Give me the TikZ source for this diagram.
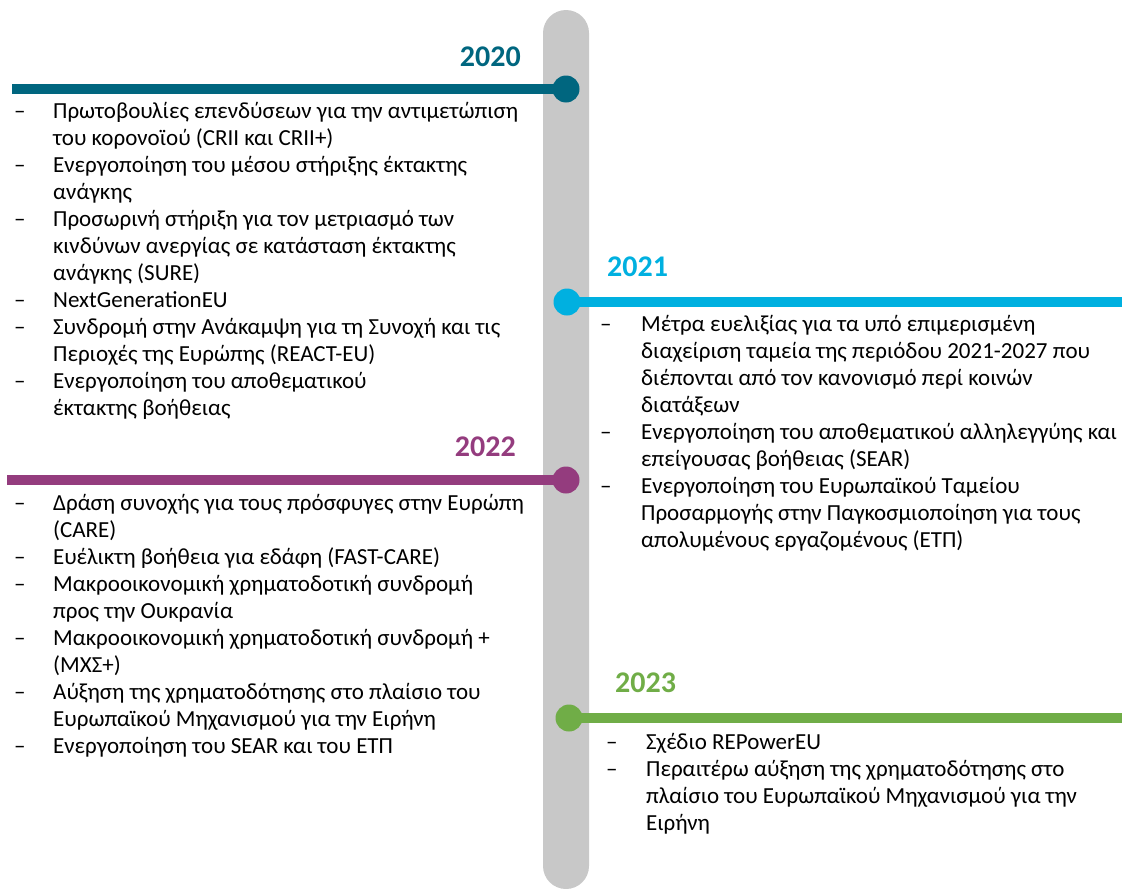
\documentclass[tikz,border=0pt]{standalone}
\usepackage{fontspec}
\setmainfont{Carlito}
\usetikzlibrary{positioning}

\definecolor{barGrey}{HTML}{C8C8C8}
\definecolor{yrTeal}{HTML}{00667F}
\definecolor{yrCyan}{HTML}{00B0E0}
\definecolor{yrPlum}{HTML}{943C7E}
\definecolor{yrGreen}{HTML}{70AD47}

\tikzset{
  bar/.style={fill=barGrey, rounded corners=23pt},
  dot/.style={circle, fill=#1, minimum size=27pt, inner sep=0pt},
  link/.style={line width=10pt, draw=#1},
  year/.style={font=\fontsize{30}{30}\selectfont\bfseries, text=#1, inner sep=0pt},
  items/.style={font=\fontsize{23}{27}\selectfont, inner sep=0pt, anchor=base west}
}

\begin{document}
\begin{tikzpicture}[x=1pt,y=-1pt]
    \useasboundingbox (0,0) rectangle (1122,889);

    % grey time axis
    \fill[bar] (543,10) rectangle (589,889);

    % year markers
    \node[dot=yrTeal]  (d2020) at (566,89)  {};
    \node[dot=yrCyan]  (d2021) at (567,302) {};
    \node[dot=yrPlum]  (d2022) at (566,480) {};
    \node[dot=yrGreen] (d2023) at (569,718) {};

    \coordinate (e2020) at (12,89);
    \coordinate (e2021) at (1122,302);
    \coordinate (e2022) at (7,480);
    \coordinate (e2023) at (1122,718);

    \draw[link=yrTeal]  (e2020) -- (d2020.center);
    \draw[link=yrCyan]  (d2021.center) -- (e2021);
    \draw[link=yrPlum]  (e2022) -- (d2022.center);
    \draw[link=yrGreen] (d2023.center) -- (e2023);

    % year labels
    \node[year=yrTeal, anchor=base east]  (y2020) at (521,66)  {2020};
    \node[year=yrCyan, anchor=base west]  (y2021) at (607,276) {2021};
    \node[year=yrPlum, anchor=base east]  (y2022) at (516,456) {2022};
    \node[year=yrGreen, anchor=base west] (y2023) at (615,692) {2023};

    % lists
    \node[items] (l2020) at (14,118) {%
      \begin{tabular}[t]{@{}p{39pt}@{}l@{}}
        \textendash & Πρωτοβουλίες επενδύσεων για την αντιμετώπιση\\
                    & του κορονοϊού (CRII και CRII+)\\
        \textendash & Ενεργοποίηση του μέσου στήριξης έκτακτης\\
                    & ανάγκης\\
        \textendash & Προσωρινή στήριξη για τον μετριασμό των\\
                    & κινδύνων ανεργίας σε κατάσταση έκτακτης\\
                    & ανάγκης (SURE)\\
        \textendash & NextGenerationEU\\
        \textendash & Συνδρομή στην Ανάκαμψη για τη Συνοχή και τις\\
                    & Περιοχές της Ευρώπης (REACT-EU)\\
        \textendash & Ενεργοποίηση του αποθεματικού\\
                    & έκτακτης βοήθειας
      \end{tabular}};

    \node[items] (l2021) at (600,331) {%
      \begin{tabular}[t]{@{}p{41pt}@{}l@{}}
        \textendash & Μέτρα ευελιξίας για τα υπό επιμερισμένη\\
                    & διαχείριση ταμεία της περιόδου 2021-2027 που\\
                    & διέπονται από τον κανονισμό περί κοινών\\
                    & διατάξεων\\
        \textendash & Ενεργοποίηση του αποθεματικού αλληλεγγύης και\\
                    & επείγουσας βοήθειας (SEAR)\\
        \textendash & Ενεργοποίηση του Ευρωπαϊκού Ταμείου\\
                    & Προσαρμογής στην Παγκοσμιοποίηση για τους\\
                    & απολυμένους εργαζομένους (ΕΤΠ)
      \end{tabular}};

    \node[items] (l2022) at (14,510) {%
      \begin{tabular}[t]{@{}p{39pt}@{}l@{}}
        \textendash & Δράση συνοχής για τους πρόσφυγες στην Ευρώπη\\
                    & (CARE)\\
        \textendash & Ευέλικτη βοήθεια για εδάφη (FAST-CARE)\\
        \textendash & Μακροοικονομική χρηματοδοτική συνδρομή\\
                    & προς την Ουκρανία\\
        \textendash & Μακροοικονομική χρηματοδοτική συνδρομή +\\
                    & (ΜΧΣ+)\\
        \textendash & Αύξηση της χρηματοδότησης στο πλαίσιο του\\
                    & Ευρωπαϊκού Μηχανισμού για την Ειρήνη\\
        \textendash & Ενεργοποίηση του SEAR και του ΕΤΠ
      \end{tabular}};

    \node[items] (l2023) at (606,749) {%
      \begin{tabular}[t]{@{}p{40pt}@{}l@{}}
        \textendash & Σχέδιο REPowerEU\\
        \textendash & Περαιτέρω αύξηση της χρηματοδότησης στο\\
                    & πλαίσιο του Ευρωπαϊκού Μηχανισμού για την\\
                    & Ειρήνη
      \end{tabular}};
\end{tikzpicture}
\end{document}
